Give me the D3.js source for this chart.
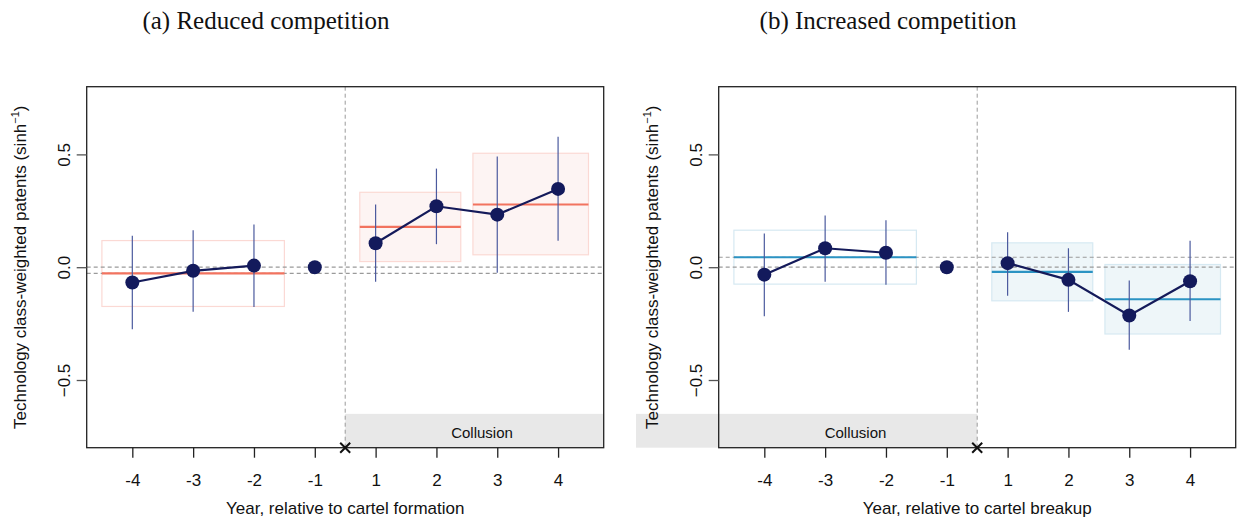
<!DOCTYPE html>
<html>
<head>
<meta charset="utf-8">
<script src="https://cdn.jsdelivr.net/npm/d3@7"></script>
<style>
  body { margin: 0; background: #fff; }
  svg { display: block; }
</style>
</head>
<body>
<div id="chart"></div>
<script>
// event-study data
var years = [-4, -3, -2, -1, 1, 2, 3, 4];
var yTicks = [-0.5, 0, 0.5];

// (a) reduced competition
var estA = [-0.068, -0.016, 0.007, 0, 0.106, 0.270, 0.233, 0.347];
var loA  = [-0.275, -0.198, -0.176, null, -0.065, 0.102, -0.025, 0.117];
var hiA  = [0.139, 0.164, 0.189, null, 0.278, 0.437, 0.491, 0.578];
var meanA  = [-0.027, 0.179, 0.278];
var boxLoA = [-0.174, 0.025, 0.055];
var boxHiA = [0.118, 0.332, 0.505];

// (b) increased competition
var estB = [-0.033, 0.084, 0.064, 0, 0.018, -0.056, -0.214, -0.062];
var loB  = [-0.217, -0.065, -0.078, null, -0.126, -0.198, -0.366, -0.239];
var hiB  = [0.149, 0.229, 0.208, null, 0.155, 0.084, -0.059, 0.117];
var meanB  = [0.044, -0.021, -0.142];
var boxLoB = [-0.075, -0.149, -0.296];
var boxHiB = [0.164, 0.108, 0.012];

// window extents in year-index units (pre, post 1-2, post 3-4)
var winFrom = [-0.5, 3.74, 5.6];
var winTo   = [2.5, 5.4, 7.5];

var W = 1241, H = 523;
var sans = "'Liberation Sans', Arial, sans-serif";
var svg = d3.select("#chart").append("svg").attr("width", W).attr("height", H);

function panel(p) {
  var x = d3.scaleLinear().domain([-0.75, 7.75]).range([p.left, p.left + 517]);
  var y = d3.scaleLinear().domain([-0.8, 0.8]).range([447.7, 86.7]);
  var g = svg.append("g");
  var idx = years.map(function(d, i){ return i; });

  // title
  svg.append("text")
    .attr("x", p.titleX).attr("y", 29)
    .attr("text-anchor", "middle")
    .style("font-family", "'Liberation Serif', 'DejaVu Serif', serif")
    .style("font-size", "25px")
    .attr("fill", "#111")
    .text(p.title);

  // collusion band
  g.append("rect")
    .attr("x", x(p.bandFrom)).attr("width", x(p.bandTo) - x(p.bandFrom))
    .attr("y", y(-0.65)).attr("height", y(-0.8) - y(-0.65))
    .attr("fill", "#e8e8e8");
  g.append("text")
    .attr("x", x(p.bandText)).attr("y", 437.5)
    .attr("text-anchor", "middle")
    .style("font-family", sans)
    .style("font-size", "15px")
    .attr("fill", "#111")
    .text("Collusion");

  // windows
  for (var k = 0; k < 3; k++) {
    g.append("rect")
      .attr("x", x(winFrom[k])).attr("width", x(winTo[k]) - x(winFrom[k]))
      .attr("y", y(p.boxHi[k])).attr("height", y(p.boxLo[k]) - y(p.boxHi[k]))
      .attr("fill", k === 0 ? "none" : p.boxFill)
      .attr("stroke", p.boxStroke).attr("stroke-width", 1.2);
  }

  // reference lines
  [0, p.mean[0]].forEach(function(v){
    g.append("line")
      .attr("x1", x(-0.75)).attr("x2", x(7.75))
      .attr("y1", y(v)).attr("y2", y(v))
      .attr("stroke", "#9a9a9a").attr("stroke-width", 1.2)
      .attr("stroke-dasharray", "4,3");
  });
  g.append("line")
    .attr("x1", x(3.5)).attr("x2", x(3.5))
    .attr("y1", y(0.8)).attr("y2", y(-0.8))
    .attr("stroke", "#9a9a9a").attr("stroke-width", 1)
    .attr("stroke-dasharray", "4,3");

  // window means
  for (var m = 0; m < 3; m++) {
    g.append("line")
      .attr("x1", x(winFrom[m])).attr("x2", x(winTo[m]))
      .attr("y1", y(p.mean[m])).attr("y2", y(p.mean[m]))
      .attr("stroke", p.meanColor).attr("stroke-width", 2.2);
  }

  // confidence intervals
  g.selectAll(".ci").data(idx.filter(function(i){ return p.lo[i] !== null; }))
    .enter().append("line")
    .attr("x1", function(i){ return x(i); }).attr("x2", function(i){ return x(i); })
    .attr("y1", function(i){ return y(p.lo[i]); })
    .attr("y2", function(i){ return y(p.hi[i]); })
    .attr("stroke", "#4b5a9e").attr("stroke-width", 1.2);

  // connecting lines
  var line = d3.line().x(function(i){ return x(i); }).y(function(i){ return y(p.est[i]); });
  [[0, 1, 2], [4, 5, 6, 7]].forEach(function(seg){
    g.append("path").attr("d", line(seg))
      .attr("fill", "none").attr("stroke", "#141a5a").attr("stroke-width", 2.2);
  });

  g.selectAll(".pt").data(idx).enter().append("circle")
    .attr("cx", function(i){ return x(i); })
    .attr("cy", function(i){ return y(p.est[i]); })
    .attr("r", 7).attr("fill", "#131a5c");

  // frame
  g.append("rect")
    .attr("x", x(-0.75)).attr("y", y(0.8))
    .attr("width", x(7.75) - x(-0.75)).attr("height", y(-0.8) - y(0.8))
    .attr("fill", "none").attr("stroke", "#222").attr("stroke-width", 1.3);

  // x axis
  var xa = g.append("g").attr("transform", "translate(0," + y(-0.8) + ")")
    .call(d3.axisBottom(x).tickValues(idx).tickSize(10).tickPadding(16)
      .tickFormat(function(i){ return years[i]; }));
  xa.select(".domain").remove();
  xa.selectAll("line").attr("stroke", "#222").attr("stroke-width", 1.3);
  xa.selectAll("text").style("font-family", sans)
    .style("font-size", "17px").attr("fill", "#111");

  // y axis
  var ya = g.append("g").attr("transform", "translate(" + x(-0.75) + ",0)")
    .call(d3.axisLeft(y).tickValues(yTicks).tickSize(10).tickFormat(d3.format(".1f")));
  ya.select(".domain").remove();
  ya.selectAll("line").attr("stroke", "#555").attr("stroke-width", 1.3);
  ya.selectAll("text")
    .attr("x", null).attr("dy", null)
    .attr("text-anchor", "middle")
    .attr("transform", "translate(-17,0) rotate(-90)")
    .style("font-family", sans)
    .style("font-size", "17px").attr("fill", "#111");

  // axis titles
  g.append("text")
    .attr("x", x(3.5)).attr("y", 514)
    .attr("text-anchor", "middle")
    .style("font-family", sans)
    .style("font-size", "17px").attr("fill", "#111")
    .text(p.xTitle);

  var yt = g.append("text")
    .attr("transform", "translate(" + (p.left - 61) + "," + y(0) + ") rotate(-90)")
    .attr("text-anchor", "middle")
    .style("font-family", sans)
    .style("font-size", "17px").attr("fill", "#111");
  yt.append("tspan").text("Technology class-weighted patents (sinh");
  yt.append("tspan").attr("dy", -7).style("font-size", "11px").text("\u22121");
  yt.append("tspan").attr("dy", 7).text(")");

  // cartel event marker
  var cx = x(3.5), cy = y(-0.8);
  g.append("path")
    .attr("d", "M" + (cx - 5) + "," + (cy - 5) + "L" + (cx + 5) + "," + (cy + 5) +
               "M" + (cx - 5) + "," + (cy + 5) + "L" + (cx + 5) + "," + (cy - 5))
    .attr("stroke", "#111").attr("stroke-width", 2);
}

panel({
  left: 86.7, title: "(a) Reduced competition", titleX: 266,
  est: estA, lo: loA, hi: hiA, mean: meanA, boxLo: boxLoA, boxHi: boxHiA,
  meanColor: "#f2735f", boxFill: "#fdf4f3", boxStroke: "#fbd9d4",
  bandFrom: 3.5, bandTo: 7.75, bandText: 5.75,
  xTitle: "Year, relative to cartel formation"
});

panel({
  left: 718.7, title: "(b) Increased competition", titleX: 888,
  est: estB, lo: loB, hi: hiB, mean: meanB, boxLo: boxLoB, boxHi: boxHiB,
  meanColor: "#2b93c3", boxFill: "#eef6f9", boxStroke: "#d6e9f2",
  bandFrom: -2.11, bandTo: 3.5, bandText: 1.5,
  xTitle: "Year, relative to cartel breakup"
});
</script>
</body>
</html>
